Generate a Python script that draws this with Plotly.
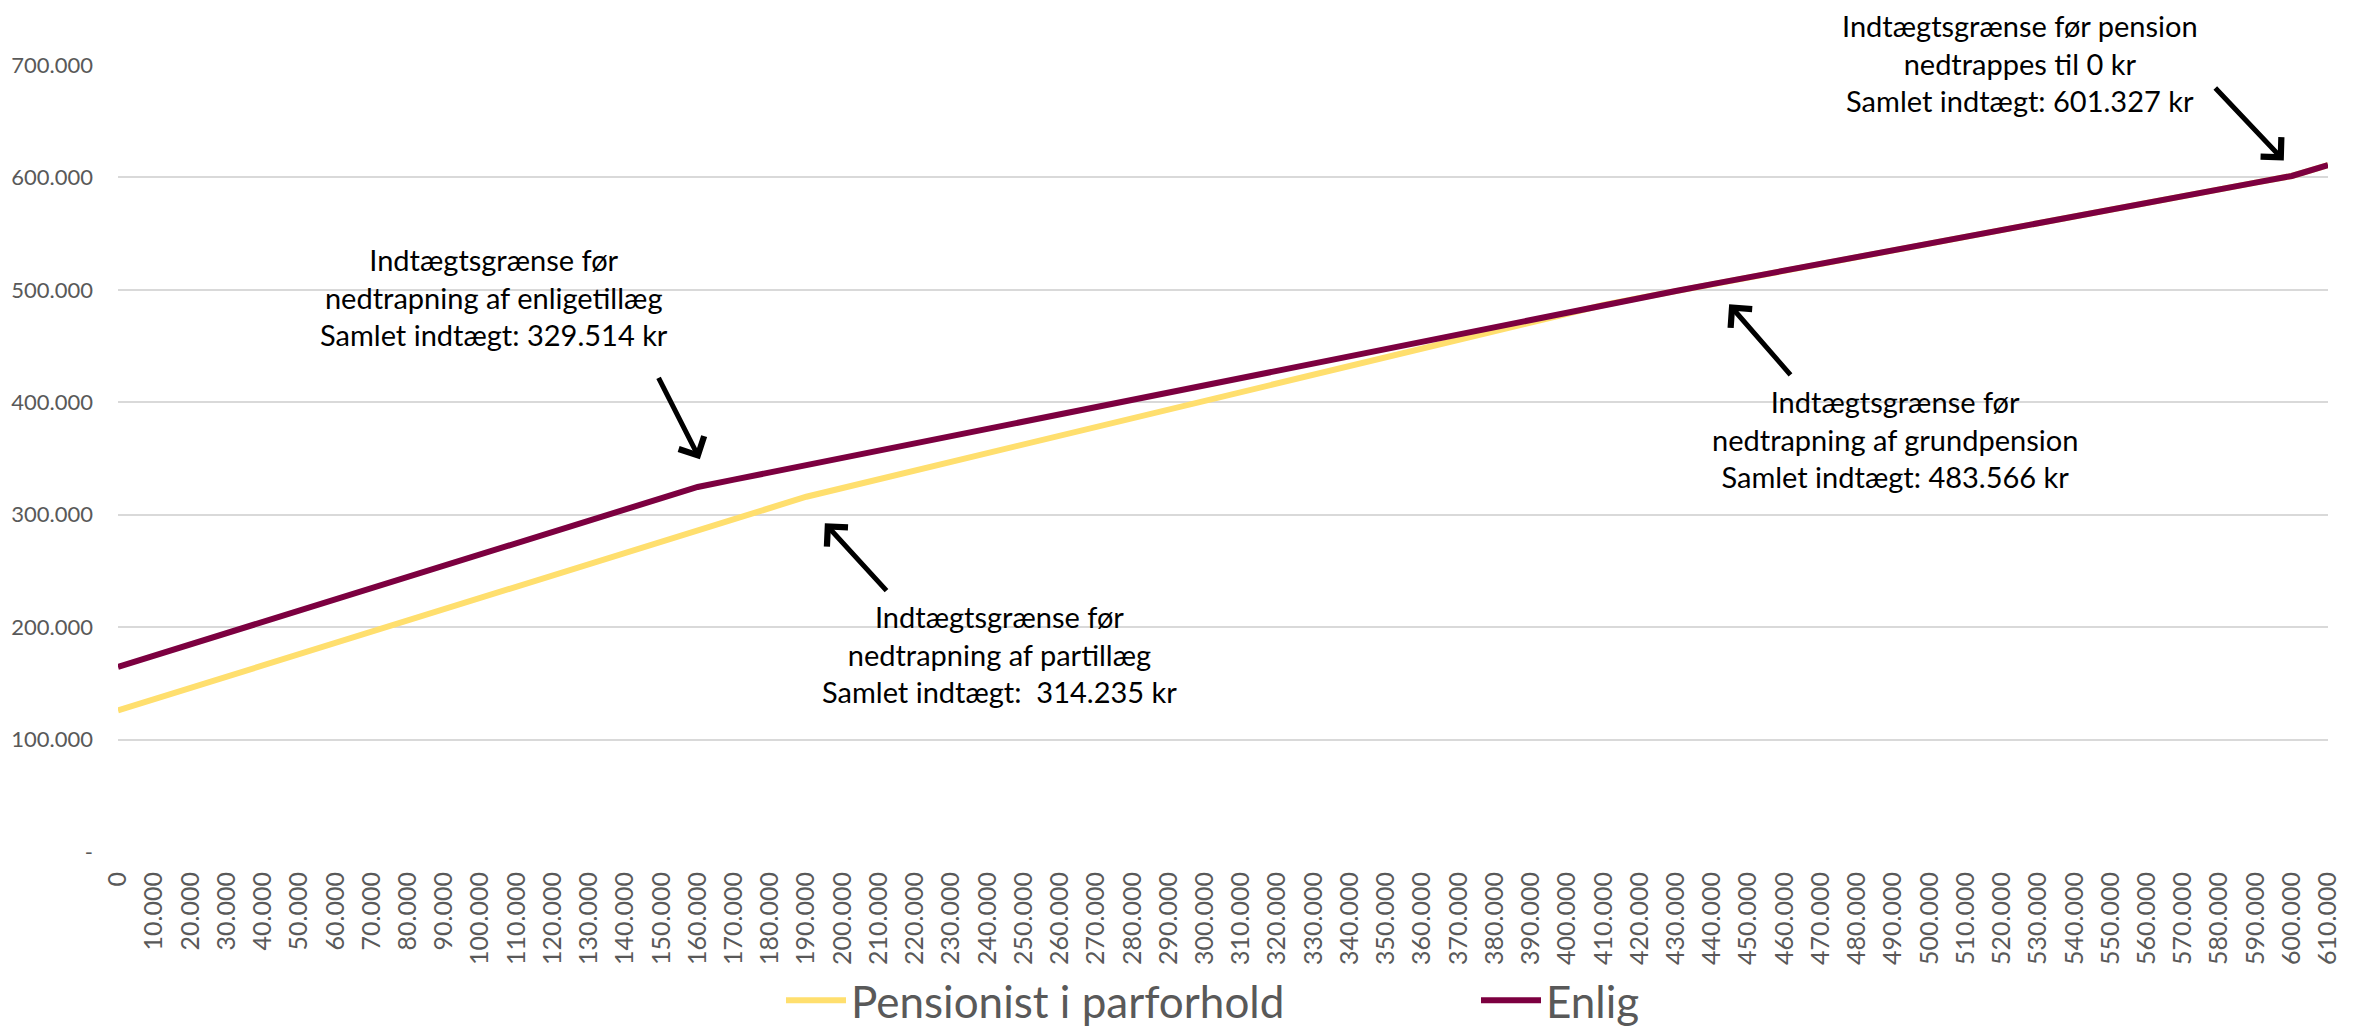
import plotly.graph_objects as go

# ---------------- DATA ----------------
x_labels = ["0", "10.000", "20.000", "30.000", "40.000", "50.000", "60.000", "70.000", "80.000", "90.000",
            "100.000", "110.000", "120.000", "130.000", "140.000", "150.000", "160.000", "170.000", "180.000", "190.000",
            "200.000", "210.000", "220.000", "230.000", "240.000", "250.000", "260.000", "270.000", "280.000", "290.000",
            "300.000", "310.000", "320.000", "330.000", "340.000", "350.000", "360.000", "370.000", "380.000", "390.000",
            "400.000", "410.000", "420.000", "430.000", "440.000", "450.000", "460.000", "470.000", "480.000", "490.000",
            "500.000", "510.000", "520.000", "530.000", "540.000", "550.000", "560.000", "570.000", "580.000", "590.000",
            "600.000", "610.000"]

parforhold = [126000, 136000, 146000, 156000, 166000, 176000, 186000, 196000, 206000, 216000,
              226000, 236000, 246000, 256000, 266000, 276000, 286000, 296000, 306000, 316000,
              323800, 331600, 339400, 347200, 355000, 362800, 370600, 378400, 386200, 394000,
              401800, 409600, 417400, 425200, 433000, 440800, 448600, 456400, 464200, 472000,
              479800, 486500, 492900, 499000, 505100, 511200, 517300, 523400, 529500, 535600,
              541700, 547800, 553900, 560000, 566100, 572200, 578300, 584000, 589700, 595400,
              601300, 611000]

enlig = [164700, 174700, 184700, 194700, 204700, 214700, 224700, 234700, 244700, 254700,
         264700, 274700, 284700, 294700, 304700, 314700, 324700, 331200, 337700, 344200,
         350700, 357200, 363700, 370200, 376700, 383200, 389700, 396200, 402700, 409200,
         415700, 422200, 428700, 435200, 441700, 448100, 454500, 460900, 467300, 473700,
         480100, 486500, 492900, 499000, 505100, 511200, 517300, 523400, 529500, 535600,
         541700, 547800, 553900, 560000, 566100, 572200, 578300, 584000, 589700, 595400,
         601300, 611000]

y_tickvals = [0, 100000, 200000, 300000, 400000, 500000, 600000, 700000]
y_ticktext = ["-", "100.000", "200.000", "300.000", "400.000", "500.000", "600.000", "700.000"]

series_names = ["Pensionist i parforhold", "Enlig"]

note_texts = [
    "Indtægtsgrænse før<br>nedtrapning af enligetillæg<br>Samlet indtægt: 329.514 kr",
    "Indtægtsgrænse før<br>nedtrapning af partillæg<br>Samlet indtægt:  314.235 kr",
    "Indtægtsgrænse før<br>nedtrapning af grundpension<br>Samlet indtægt: 483.566 kr",
    "Indtægtsgrænse før pension<br>nedtrappes til 0 kr<br>Samlet indtægt: 601.327 kr",
]

# ---------------- STYLE ----------------
FONT = "Lato"
YELLOW = "#FFDF6E"
RED = "#7C0040"
GRAY_TXT = "#595959"
GRID = "#D9D9D9"

fig = go.Figure()
fig.add_trace(go.Scatter(x=x_labels, y=parforhold, mode="lines", name=series_names[0],
                         line=dict(color=YELLOW, width=6)))
fig.add_trace(go.Scatter(x=x_labels, y=enlig, mode="lines", name=series_names[1],
                         line=dict(color=RED, width=6)))

# text annotations, paper coordinates relative to the plot area
text_pos = [(0.1700, 0.7052), (0.3990, 0.2516), (0.8042, 0.5250), (0.8606, 1.0030)]
for t, (xx, yy) in zip(note_texts, text_pos):
    fig.add_annotation(x=xx, y=yy, xref="paper", yref="paper", text=t, showarrow=False,
                       font=dict(family=FONT, size=29, color="black"), align="center",
                       xanchor="center", yanchor="middle", borderpad=0)

# arrows: (tip_x, tip_y, tail_x, tail_y) in category index / value
arrows = [(16.06, 349300, 14.9, 423100),
          (19.51, 292400, 21.25, 231100),
          (44.47, 487100, 46.2, 423100),
          (59.78, 615100, 57.85, 680900)]
for tx, ty, ax, ay in arrows:
    fig.add_annotation(x=tx, y=ty, xref="x", yref="y", ax=ax, ay=ay, axref="x", ayref="y",
                       text="", showarrow=True, arrowhead=4, arrowsize=1.1, arrowwidth=5,
                       arrowcolor="black", standoff=0, startstandoff=0)

# the page body adds an 8px offset; figure sized so the plot sits where the reference's does
fig.update_layout(
    width=2353, height=1019,
    margin=dict(l=110, r=33, t=57, b=175, autoexpand=False),
    paper_bgcolor="white", plot_bgcolor="white",
    font=dict(family=FONT, color=GRAY_TXT),
    showlegend=True,
    legend=dict(orientation="h", x=0.300, xanchor="left", y=-0.189, yanchor="middle",
                font=dict(family=FONT, size=44, color=GRAY_TXT),
                entrywidth=620, itemwidth=60, bgcolor="rgba(0,0,0,0)"),
    xaxis=dict(type="category", range=[0, 61], tickangle=-90, showgrid=False,
               tickfont=dict(family=FONT, size=25, color=GRAY_TXT), automargin=False,
               ticks="", showline=False, zeroline=False, ticklabelstandoff=14),
    yaxis=dict(range=[0, 700000], tickvals=y_tickvals, ticktext=y_ticktext,
               showgrid=True, gridcolor=GRID, gridwidth=2, zeroline=False, automargin=False,
               tickfont=dict(family=FONT, size=22, color=GRAY_TXT),
               ticks="", showline=False, ticklabelstandoff=24),
)

fig.write_html("out.html")
